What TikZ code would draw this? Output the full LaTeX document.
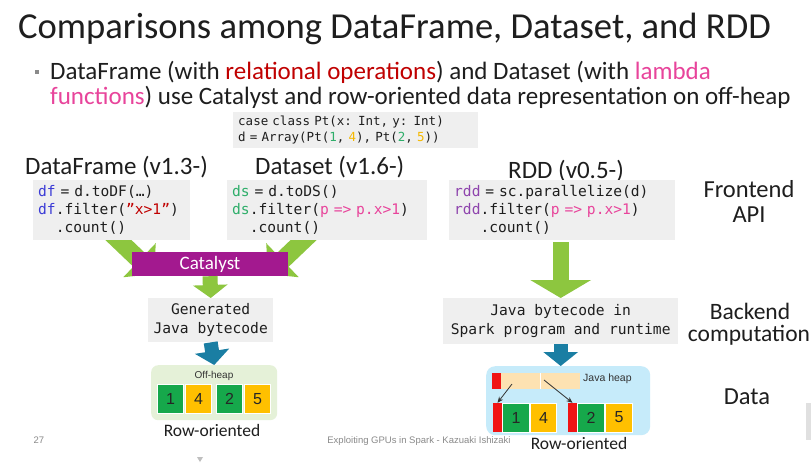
\documentclass[tikz,border=0pt]{standalone}
\usepackage{fontspec}
\setmainfont{Carlito}
\setmonofont{DejaVu Sans Mono}
\newfontfamily\arialf{Liberation Sans}
\usetikzlibrary{arrows.meta,calc}
\definecolor{codegray}{HTML}{EFEFEF}
\definecolor{catpurple}{HTML}{A3198F}
\definecolor{arrgreen}{HTML}{8DC63F}
\definecolor{arrblue}{HTML}{1A7EA3}
\definecolor{offgreen}{HTML}{E5F1D8}
\definecolor{heapblue}{HTML}{C6EBFA}
\definecolor{cellgreen}{HTML}{16A84B}
\definecolor{cellyel}{HTML}{FFC000}
\definecolor{cellred}{HTML}{F01414}
\definecolor{heaporange}{HTML}{FDE2B2}
\definecolor{relred}{HTML}{C00000}
\definecolor{lampink}{HTML}{E8449B}
\definecolor{dfblue}{HTML}{3B3BD6}
\definecolor{dsgreen}{HTML}{2EAE6A}
\definecolor{rddpurple}{HTML}{8E44AD}
\definecolor{numyel}{HTML}{F5B800}
\definecolor{txt}{HTML}{1E1E1E}
\definecolor{foot}{HTML}{8A8A8A}
\newcommand\fixsp{\spaceskip=\fontcharwd\font`x\relax\xspaceskip=\spaceskip}
\begin{document}
\begin{tikzpicture}[x=1pt,y=1pt,
  txtnode/.style={inner sep=0, text=txt},
  codebox/.style={fill=codegray, inner xsep=5pt, inner ysep=0pt, align=left, anchor=north west,
    font=\ttfamily\fontsize{14.6}{18}\selectfont\fixsp, text=txt},
  centerbox/.style={fill=codegray, inner sep=0pt, align=center, anchor=north west,
    font=\ttfamily\fontsize{14.6}{18.5}\selectfont\fixsp, text=txt},
  label/.style={inner sep=0, text=txt, anchor=base west, font=\fontsize{25}{30}\selectfont},
  side/.style={inner sep=0, text=txt, anchor=base, font=\fontsize{24.5}{25.5}\selectfont},
  cell/.style={minimum width=26.5, minimum height=29, inner sep=0, draw=white, line width=0.8,
    font=\arialf\fontsize{16}{16}\selectfont, text=black!85},
  redbar/.style={fill=cellred, minimum width=9, inner sep=0},
  garrow/.style={draw=arrgreen, line width=15, -{Triangle[width=34,length=13]}},
  barrow/.style={draw=arrblue, line width=14, -{Triangle[width=34,length=14]}},
  smallf/.style={inner sep=0, font=\arialf\fontsize{10}{10}\selectfont, text=black!80},
  rowf/.style={inner sep=0, font=\fontsize{17.5}{18}\selectfont, text=txt}
]
\useasboundingbox[fill=white] (0,0) rectangle (811,-475);

% title and bullet
\node[txtnode, anchor=base west, font=\fontsize{36.6}{40}\selectfont] (title) at (18,-38)
  {Comparisons among DataFrame, Dataset, and RDD};
\node[fill=foot, minimum size=4.5, inner sep=0] (bul) at (37,-72) {};
\node[txtnode, anchor=base west, font=\fontsize{25}{30}\selectfont] (b1) at (50,-79)
  {DataFrame (with \textcolor{relred}{relational operations}) and Dataset (with \textcolor{lampink}{lambda}};
\node[txtnode, anchor=base west, font=\fontsize{25}{30}\selectfont] (b2) at (50,-104)
  {\textcolor{lampink}{functions}) use Catalyst and row-oriented data representation on off-heap};

% case class box
\node[codebox, font=\ttfamily\fontsize{12.5}{16.5}\selectfont\fixsp, minimum height=36, text width=235]
  (pt) at (233,-112)
  {case class Pt(x: Int, y: Int)\\
   d = Array(Pt(\textcolor{dsgreen}{1}, \textcolor{numyel}{4}), Pt(\textcolor{dsgreen}{2}, \textcolor{numyel}{5}))};

% labels
\node[label] (dflab) at (25,-174) {DataFrame (v1.3-)};
\node[label] (dslab) at (255,-174) {Dataset (v1.6-)};
\node[label] (rddlab) at (508,-178) {RDD (v0.5-)};

% diagonal green arrows into Catalyst (drawn under the boxes)
\coordinate (dfa) at (110,-232);
\coordinate (dsa) at (312,-232);
\coordinate (cw) at (154,-274);
\coordinate (ce) at (268,-274);
\draw[garrow, line width=18, -{Triangle[width=46,length=20]}] (dfa) -- (cw);
\draw[garrow, line width=18, -{Triangle[width=46,length=20]}] (dsa) -- (ce);

% code boxes
\node[codebox, minimum height=60, text width=147] (dfcode) at (33,-180)
  {\textcolor{dfblue}{df} = d.toDF(…)\\
   \textcolor{dfblue}{df}.filter(\textcolor{relred}{”x>1”})\\
   \phantom{xx}.count()};
\node[codebox, minimum height=60, text width=190] (dscode) at (227,-180)
  {\textcolor{dsgreen}{ds} = d.toDS()\\
   \textcolor{dsgreen}{ds}.filter(\textcolor{lampink}{p => p.x>1})\\
   \phantom{xx}.count()};
\node[codebox, minimum height=60, text width=216] (rddcode) at (449,-180)
  {\textcolor{rddpurple}{rdd} = sc.parallelize(d)\\
   \textcolor{rddpurple}{rdd}.filter(\textcolor{lampink}{p => p.x>1})\\
   \phantom{xxx}.count()};

\node[side] (front) at (749,-197) {Frontend};
\node[side] (api) at (749,-222) {API};
\node[side, font=\fontsize{23.5}{25}\selectfont] (back) at (750,-319) {Backend};
\node[side, font=\fontsize{23.5}{25}\selectfont] (comp) at (749,-341) {computation};
\node[side] (data) at (747,-404) {Data};

\node[fill=catpurple, minimum width=156, minimum height=24, inner sep=0, text=white,
  font=\fontsize{19}{20}\selectfont] (cat) at (210,-264) {Catalyst};

% generated box
\node[centerbox, minimum width=125, minimum height=44] (gen) at (148,-298)
  {Generated\\Java bytecode};
\node[centerbox, minimum width=235, minimum height=46] (jb) at (443,-298)
  {Java bytecode in\\Spark program and runtime};

\draw[garrow] (cat.south) -- (gen.north);
\coordinate (rs) at ($(rddcode.south -| jb.north)+(0,-2)$);
\draw[garrow, line width=16, -{Triangle[width=60,length=18]}] (rs) -- (jb.north);

% off-heap container
\node[fill=offgreen, rounded corners=7, minimum width=126, minimum height=55, anchor=north west, inner sep=0]
  (off) at (151,-365) {};
\draw[barrow] (gen.south) -- (off.north);
\node[smallf] (offlab) at (214,-376) {Off-heap};
\node[cell, fill=cellgreen] (c1) at (170.5,-399) {1};
\node[cell, fill=cellyel] (c4) at (198.5,-399) {4};
\node[cell, fill=cellgreen] (c2) at (229.5,-399) {2};
\node[cell, fill=cellyel] (c5) at (257.5,-399) {5};
\node[rowf] (rowl) at (212,-430) {Row-oriented};

% java heap container
\node[fill=heapblue, rounded corners=9, minimum width=164, minimum height=69, anchor=north west, inner sep=0]
  (heap) at (486,-366) {};
\draw[barrow] (jb.south) -- (heap.north -| jb.south);
\node[redbar, minimum height=16] (rt) at (496.5,-381) {};
\node[fill=heaporange, minimum width=79, minimum height=16, inner sep=0] (ot) at (540.5,-381) {};
\draw[white, line width=1] (ot.north) -- (ot.south);
\node[smallf, font=\arialf\fontsize{10.5}{10.5}\selectfont, anchor=west] (jhlab) at (583,-379) {Java heap};
\node[redbar, minimum height=29] (r1) at (497.5,-417.5) {};
\node[cell, fill=cellgreen] (d1) at (516,-417.5) {1};
\node[cell, fill=cellyel] (d4) at (543.5,-417.5) {4};
\node[redbar, minimum height=29] (r2) at (572.5,-417.5) {};
\node[cell, fill=cellgreen] (d2) at (591,-417.5) {2};
\node[cell, fill=cellyel] (d5) at (619,-417.5) {5};
\coordinate (p1) at (512,-384);
\coordinate (p2) at (544,-380);
\draw[black!80, line width=0.8, -{Stealth[length=6,width=5]}] (p1) -- (r1.north);
\draw[black!80, line width=0.8, -{Stealth[length=6,width=5]}] (p2) -- (r2.north);
\node[rowf] (rowr) at (579,-443) {Row-oriented};

% footer
\node[inner sep=0, text=foot, font=\arialf\fontsize{9.5}{10}\selectfont] (pg) at (39,-440) {27};
\node[inner sep=0, text=foot, font=\arialf\fontsize{9.5}{10}\selectfont] (ft) at (419,-441)
  {Exploiting GPUs in Spark - Kazuaki Ishizaki};
\fill[black!25] (197,-457) -- (203,-457) -- (200,-462) -- cycle;
\fill[black!12] (806,-403) rectangle (811,-440);
\end{tikzpicture}
\end{document}
